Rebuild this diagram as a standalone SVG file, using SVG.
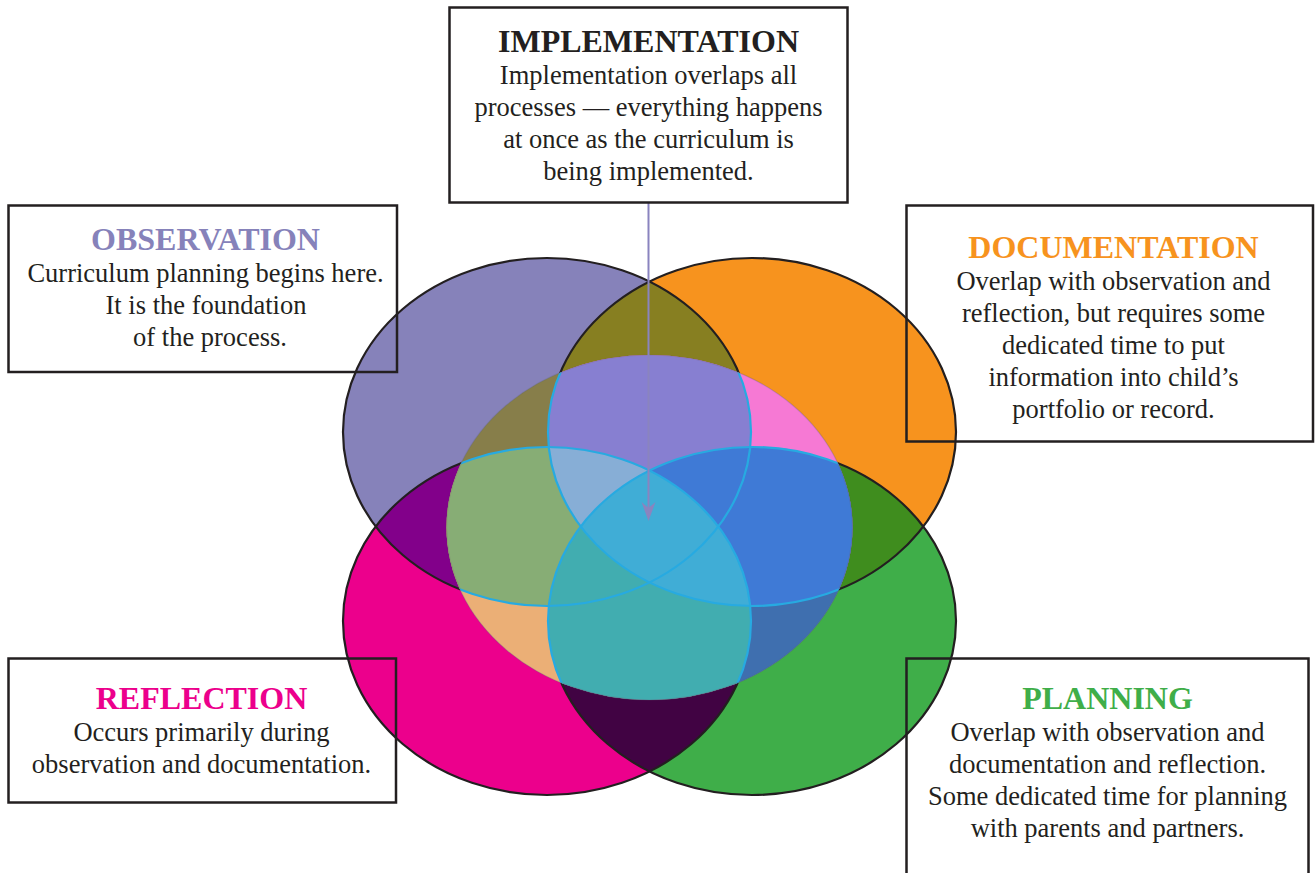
<svg xmlns="http://www.w3.org/2000/svg" width="1315" height="873" viewBox="0 0 1315 873">
<style>
.box{fill:none;stroke:#231F20;stroke-width:2.5}
.title{font-family:"Liberation Serif","Times New Roman",serif;font-weight:bold;font-size:32px;text-anchor:middle}
.body{font-family:"Liberation Serif","Times New Roman",serif;font-size:26.5px;fill:#231F20;text-anchor:middle}
.blk{fill:none;stroke:#231F20;stroke-width:2.2}
.cyn{fill:none;stroke:#27AAE1;stroke-width:2.2}
</style>
<defs>
<ellipse id="eP" cx="547" cy="432" rx="204" ry="174"/>
<ellipse id="eO" cx="752" cy="432" rx="204" ry="174"/>
<ellipse id="eK" cx="547" cy="621" rx="204" ry="174"/>
<ellipse id="eG" cx="752" cy="621" rx="204" ry="174"/>
<ellipse id="eC" cx="649.5" cy="527.5" rx="203" ry="172.5"/>
<clipPath id="cP"><use href="#eP"/></clipPath>
<clipPath id="cO"><use href="#eO"/></clipPath>
<clipPath id="cK"><use href="#eK"/></clipPath>
<clipPath id="cG"><use href="#eG"/></clipPath>
<clipPath id="cC"><use href="#eC"/></clipPath>
</defs>
<rect width="1315" height="873" fill="#fff"/>
<g id="venn">
  <use href="#eP" fill="#8682BA"/>
  <use href="#eO" fill="#F7931E"/>
  <use href="#eK" fill="#EC008C"/>
  <use href="#eG" fill="#3FAE49"/>
  <g clip-path="url(#cP)"><use href="#eO" fill="#877F21"/></g>
  <g clip-path="url(#cP)"><use href="#eK" fill="#82008A"/></g>
  <g clip-path="url(#cO)"><use href="#eG" fill="#3F8D1E"/></g>
  <g clip-path="url(#cK)"><use href="#eG" fill="#410343"/></g>
  <use href="#eP" class="blk"/>
  <use href="#eO" class="blk"/>
  <use href="#eK" class="blk"/>
  <use href="#eG" class="blk"/>
  <g id="implementation-area" clip-path="url(#cC)">
    <use href="#eC" fill="#40ADD6"/>
    <use href="#eP" fill="#877E4A"/>
    <use href="#eO" fill="#F679D4"/>
    <use href="#eK" fill="#EBAF76"/>
    <use href="#eG" fill="#3F6FAF"/>
    <g clip-path="url(#cP)"><use href="#eO" fill="#877FD1"/></g>
    <g clip-path="url(#cP)"><use href="#eK" fill="#87AD75"/></g>
    <g clip-path="url(#cO)"><use href="#eG" fill="#3F7AD6"/></g>
    <g clip-path="url(#cK)"><use href="#eG" fill="#41ADB0"/></g>
    <g clip-path="url(#cP)"><g clip-path="url(#cO)"><use href="#eK" fill="#87AED6"/></g></g>
    <g clip-path="url(#cP)"><g clip-path="url(#cO)"><use href="#eG" fill="#3F7AD6"/></g></g>
    <g clip-path="url(#cP)"><g clip-path="url(#cK)"><use href="#eG" fill="#41ADB0"/></g></g>
    <g clip-path="url(#cO)"><g clip-path="url(#cK)"><use href="#eG" fill="#40ADD6"/></g></g>
    <use href="#eP" class="cyn"/>
    <use href="#eO" class="cyn"/>
    <use href="#eK" class="cyn"/>
    <use href="#eG" class="cyn"/>
  </g>
  <use href="#eC" fill="none" stroke="#6a5a6a" stroke-opacity="0.25" stroke-width="1.2"/>
</g>
<g id="connectors">
  <line x1="648.5" y1="203" x2="648.5" y2="510" stroke="#8A84BF" stroke-width="2"/>
  <path d="M648.5,521 L641.5,502 L648.5,508 L655.5,502 Z" fill="#8A84BF"/>
</g>
<g id="implementation">
  <rect class="box" x="449.5" y="7.5" width="398" height="195" fill="#fff"/>
  <text class="title" x="648.5" y="52" fill="#231F20">IMPLEMENTATION</text>
  <text class="body" x="648.5" y="84">Implementation overlaps all</text>
  <text class="body" x="648.5" y="116">processes — everything happens</text>
  <text class="body" x="648.5" y="148">at once as the curriculum is</text>
  <text class="body" x="648.5" y="180">being implemented.</text>
</g>
<g id="observation">
  <rect class="box" x="8.5" y="205.5" width="388.5" height="166.5"/>
  <text class="title" x="205.5" y="250" fill="#8682BA">OBSERVATION</text>
  <text class="body" x="205.5" y="282">Curriculum planning begins here.</text>
  <text class="body" x="206" y="314">It is the foundation</text>
  <text class="body" x="210" y="346">of the process.</text>
</g>
<g id="documentation">
  <rect class="box" x="906.5" y="205.5" width="406.5" height="236"/>
  <text class="title" x="1113.5" y="258" fill="#F7931E">DOCUMENTATION</text>
  <text class="body" x="1113.5" y="290">Overlap with observation and</text>
  <text class="body" x="1113.5" y="322">reflection, but requires some</text>
  <text class="body" x="1113.5" y="354">dedicated time to put</text>
  <text class="body" x="1113.5" y="386">information into child’s</text>
  <text class="body" x="1113.5" y="418">portfolio or record.</text>
</g>
<g id="reflection">
  <rect class="box" x="8.5" y="658.5" width="387.5" height="144"/>
  <text class="title" x="201.5" y="709" fill="#EC008C">REFLECTION</text>
  <text class="body" x="201.5" y="741">Occurs primarily during</text>
  <text class="body" x="201.5" y="773">observation and documentation.</text>
</g>
<g id="planning">
  <rect class="box" x="906.5" y="658.5" width="402" height="230"/>
  <text class="title" x="1107.5" y="709" fill="#3FAE49">PLANNING</text>
  <text class="body" x="1107.5" y="741">Overlap with observation and</text>
  <text class="body" x="1107.5" y="773">documentation and reflection.</text>
  <text class="body" x="1107.5" y="805">Some dedicated time for planning</text>
  <text class="body" x="1107.5" y="837">with parents and partners.</text>
</g>
</svg>
